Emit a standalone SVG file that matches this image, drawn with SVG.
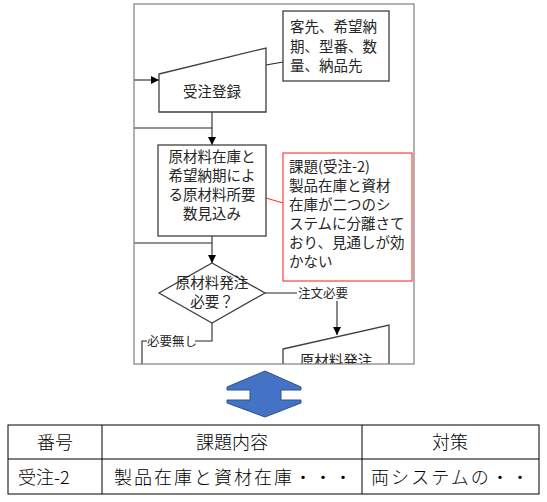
<svg xmlns="http://www.w3.org/2000/svg" width="547" height="502" viewBox="0 0 547 502">
<style>
.shape{fill:#ffffff;stroke:#404040;stroke-width:1.3}
.line{fill:none;stroke:#262626;stroke-width:1.1}
.t{font-family:"Noto Sans CJK JP",sans-serif;font-size:14.5px;fill:#262626}
.lbl{font-family:"Noto Sans CJK JP",sans-serif;font-size:12.5px;fill:#262626}
.tb{font-family:"Noto Sans CJK JP",sans-serif;font-size:18px;fill:#000;font-weight:300}
.cell{fill:none;stroke:#000;stroke-width:1}
</style>
<defs>
<marker id="ah" viewBox="0 0 10 10" refX="10" refY="5" markerWidth="8" markerHeight="8" markerUnits="userSpaceOnUse" orient="auto">
<path d="M0,0 L10,5 L0,10 Z" fill="#000"/>
</marker>
<clipPath id="frameclip"><rect x="134" y="4" width="280" height="360"/></clipPath>
</defs>
<rect width="547" height="502" fill="#ffffff"/>
<g id="frame-content" clip-path="url(#frameclip)">
<g id="connectors">
<line class="line" x1="134" y1="80" x2="159" y2="80" marker-end="url(#ah)"/>
<line class="line" x1="212" y1="112" x2="212" y2="145" marker-end="url(#ah)"/>
<line class="line" x1="134" y1="128" x2="212" y2="128"/>
<line class="line" x1="266" y1="65" x2="283" y2="62"/>
<line class="line" x1="212" y1="236" x2="212" y2="263" marker-end="url(#ah)"/>
<line class="line" x1="134" y1="243" x2="212" y2="243"/>
<line x1="266" y1="198" x2="283" y2="203" stroke="#ff3333" stroke-width="1.1"/>
<path class="line" d="M265,293 H337 V335" marker-end="url(#ah)"/>
<rect x="297" y="285" width="51" height="16" fill="#ffffff"/>
<text class="lbl" x="298" y="297.5">注文必要</text>
<path class="line" d="M212,323 V341 H142 V372" marker-end="url(#ah)"/>
<rect x="147" y="333" width="48" height="16" fill="#ffffff"/>
<text class="lbl" x="147" y="345.5">必要無し</text>
</g>
<g id="node-juchu">
<polygon class="shape" points="159,74 266,48 266,112 159,112"/>
<text class="t" x="212" y="97" text-anchor="middle">受注登録</text>
</g>
<g id="node-note1">
<rect class="shape" x="283" y="11" width="106" height="70"/>
<text class="t"><tspan x="290" y="32">客先、希望納</tspan><tspan x="290" y="52">期、型番、数</tspan><tspan x="290" y="71">量、納品先</tspan></text>
</g>
<g id="node-mikomi">
<rect class="shape" x="158" y="145" width="108" height="91"/>
<text class="t" text-anchor="middle"><tspan x="212" y="162">原材料在庫と</tspan><tspan x="212" y="181">希望納期によ</tspan><tspan x="212" y="200">る原材料所要</tspan><tspan x="212" y="219">数見込み</tspan></text>
</g>
<g id="node-issue">
<rect x="283" y="153" width="129" height="128" fill="#ffffff" stroke="#ff4d4d" stroke-width="1.3"/>
<text class="t"><tspan x="289" y="172">課題(受注-2)</tspan><tspan x="289" y="191">製品在庫と資材</tspan><tspan x="289" y="210">在庫が二つのシ</tspan><tspan x="289" y="229">ステムに分離さて</tspan><tspan x="289" y="248">おり、見通しが効</tspan><tspan x="289" y="267">かない</tspan></text>
</g>
<g id="node-decision">
<polygon class="shape" points="212,263 265,293 212,323 159,293"/>
<text class="t" text-anchor="middle"><tspan x="212" y="288">原材料発注</tspan><tspan x="212" y="307">必要？</tspan></text>
</g>
<g id="node-hacchu">
<polygon class="shape" points="283,349 389,325 389,380 283,380"/>
<text class="t" x="336" y="366" text-anchor="middle">原材料発注</text>
</g>
</g>
<rect id="frame" x="134" y="4" width="280" height="360" fill="none" stroke="#7f7f7f" stroke-width="1.2"/>
<g id="double-arrow">
<polygon points="265,371 301,387 301,390 281,390 281,400 301,400 301,403 265,417 227,403 227,400 250,400 250,390 227,390 227,387" fill="#4472c4" stroke="#2f528f" stroke-width="1"/>
</g>
<g id="table">
<rect class="cell" x="8" y="425" width="531" height="69"/>
<line class="cell" x1="8" y1="459" x2="539" y2="459"/>
<line class="cell" x1="102" y1="425" x2="102" y2="494"/>
<line class="cell" x1="362" y1="425" x2="362" y2="494"/>
<text class="tb" x="55" y="449" text-anchor="middle">番号</text>
<text class="tb" x="232" y="449" text-anchor="middle">課題内容</text>
<text class="tb" x="450" y="449" text-anchor="middle">対策</text>
<text class="tb" x="18" y="484">受注-2</text>
<text class="tb" x="114" y="484" textLength="238" lengthAdjust="spacing">製品在庫と資材在庫・・・</text>
<text class="tb" x="371" y="484" textLength="158" lengthAdjust="spacing">両システムの・・</text>
</g>
</svg>
